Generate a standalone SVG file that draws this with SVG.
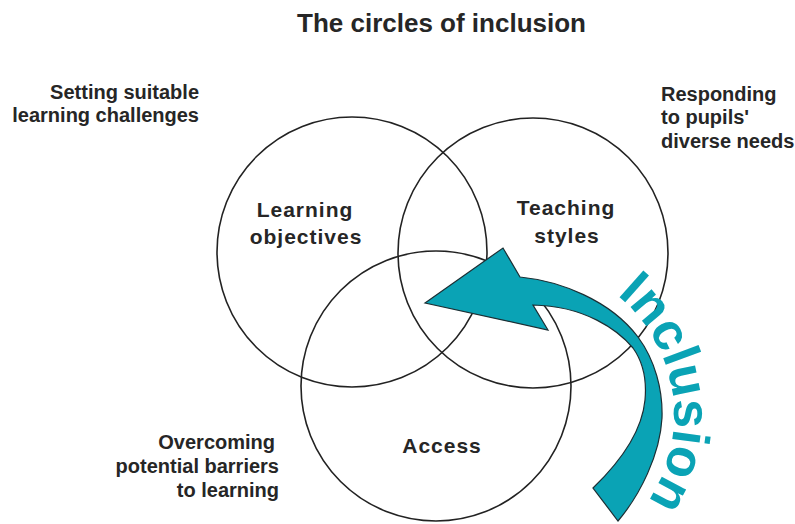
<svg xmlns="http://www.w3.org/2000/svg" width="795" height="524" viewBox="0 0 795 524">
<style>
  .t{font-family:"Liberation Sans",Arial,sans-serif;font-weight:bold;fill:#262626}
  .title{font-size:26px}
  .side{font-size:20px}
  .node{font-size:21px;letter-spacing:1px;text-anchor:middle}
  .circ{fill:none;stroke:#222;stroke-width:1.6}
  .arrow{fill:#0aa3b5;stroke:#1c2e33;stroke-width:1.2;stroke-linejoin:miter}
  .incl{font-family:"Liberation Sans",Arial,sans-serif;font-weight:bold;font-size:52px;fill:#0aa3b5}
</style>
<defs>
  <path id="arc" d="M 616.9,295.3 A 154 154 0 0 1 619,533"/>
</defs>
<rect width="795" height="524" fill="#fff"/>
<text class="t title" x="297" y="32">The circles of inclusion</text>

<g id="label-setting">
  <text class="t side" text-anchor="end" x="199" y="99">Setting suitable</text>
  <text class="t side" text-anchor="end" x="199" y="122">learning challenges</text>
</g>
<g id="label-responding">
  <text class="t side" x="661" y="101">Responding</text>
  <text class="t side" x="661" y="124">to pupils'</text>
  <text class="t side" x="661" y="148">diverse needs</text>
</g>
<g id="label-overcoming">
  <text class="t side" text-anchor="end" x="275" y="449">Overcoming</text>
  <text class="t side" text-anchor="end" x="279" y="473">potential barriers</text>
  <text class="t side" text-anchor="end" x="279" y="497">to learning</text>
</g>

<g id="node-learning">
  <circle class="circ" cx="352" cy="252" r="135"/>
  <text class="t node" x="305" y="217">Learning</text>
  <text class="t node" x="306" y="244">objectives</text>
</g>
<g id="node-teaching">
  <circle class="circ" cx="533" cy="253" r="135"/>
  <text class="t node" x="566" y="215">Teaching</text>
  <text class="t node" x="567" y="243">styles</text>
</g>
<g id="node-access">
  <circle class="circ" cx="436" cy="386" r="135"/>
  <text class="t node" x="442" y="453">Access</text>
</g>

<g id="connectors">
  <path class="arrow" d="M 425,303 L 503,248 L 520,277 C 560,281 610,300 638,337 C 655,360 663,390 662,418 C 660,455 640,495 618,521 L 593,488 C 620,462 642,432 645,400 C 647,378 643,362 633,348 C 618,330 585,306 533,305 L 548,330 Z"/>
</g>
<g id="inclusion-label">
  <text class="incl"><textPath href="#arc">Inclusion</textPath></text>
</g>
</svg>
